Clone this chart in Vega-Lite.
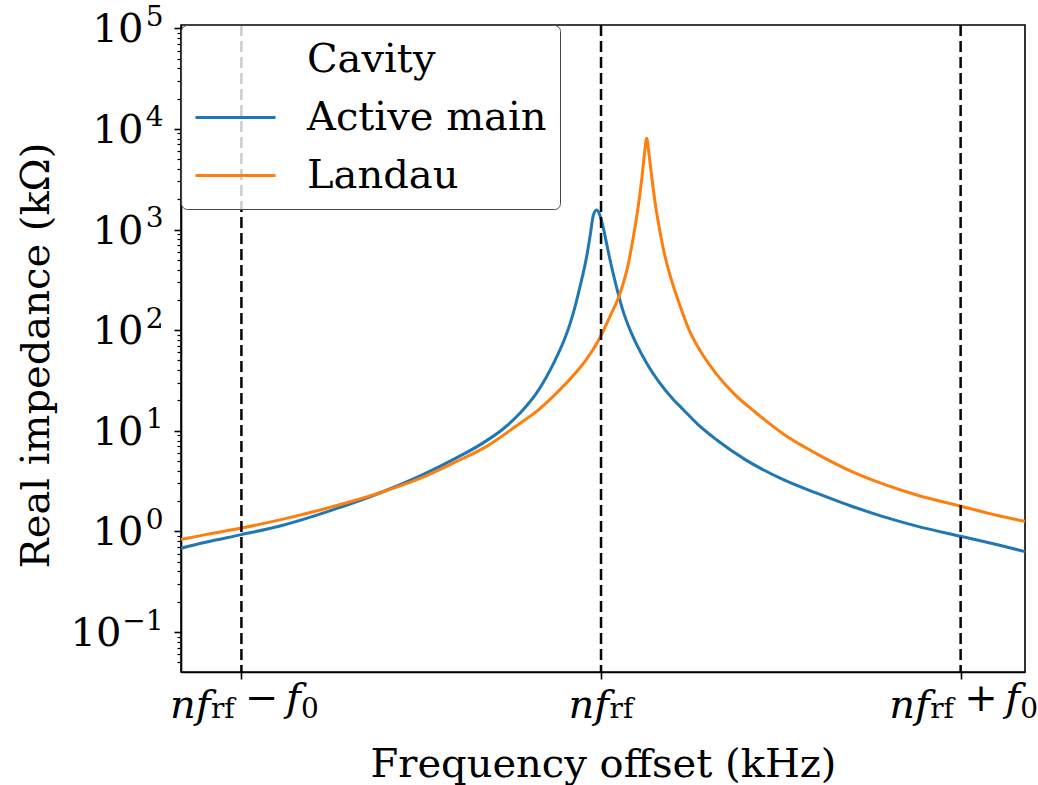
{
  "$schema": "https://vega.github.io/schema/vega-lite/v6.json",
  "width": 844,
  "height": 647,
  "autosize": {"type": "none"},
  "padding": {"left": 181, "top": 25, "right": 13, "bottom": 113},
  "background": "white",
  "config": {
    "view": {"stroke": "black", "strokeWidth": 1.6},
    "font": "DejaVu Serif",
    "axis": {
      "grid": false,
      "labelColor": "black",
      "titleColor": "black",
      "domainColor": "black",
      "tickColor": "black",
      "labelFont": "DejaVu Serif",
      "titleFont": "DejaVu Serif",
      "titleFontWeight": "normal",
      "labelOverlap": false,
      "labelFlush": false,
      "domainWidth": 1.6,
      "tickWidth": 1.6
    }
  },
  "datasets": {
    "curves": [
      {"u": -1.168, "z": 0.68, "cavity": "Active main"},
      {"u": -1.10, "z": 0.78, "cavity": "Active main"},
      {"u": -1.00, "z": 0.93, "cavity": "Active main"},
      {"u": -0.89, "z": 1.14, "cavity": "Active main"},
      {"u": -0.75, "z": 1.62, "cavity": "Active main"},
      {"u": -0.61, "z": 2.45, "cavity": "Active main"},
      {"u": -0.50, "z": 3.6, "cavity": "Active main"},
      {"u": -0.41, "z": 5.2, "cavity": "Active main"},
      {"u": -0.33, "z": 7.5, "cavity": "Active main"},
      {"u": -0.27, "z": 10.6, "cavity": "Active main"},
      {"u": -0.225, "z": 15, "cavity": "Active main"},
      {"u": -0.18, "z": 23.5, "cavity": "Active main"},
      {"u": -0.133, "z": 46, "cavity": "Active main"},
      {"u": -0.10, "z": 84, "cavity": "Active main"},
      {"u": -0.086, "z": 116, "cavity": "Active main"},
      {"u": -0.07, "z": 183, "cavity": "Active main"},
      {"u": -0.058, "z": 275, "cavity": "Active main"},
      {"u": -0.040, "z": 538, "cavity": "Active main"},
      {"u": -0.030, "z": 880, "cavity": "Active main"},
      {"u": -0.021, "z": 1400, "cavity": "Active main"},
      {"u": -0.012, "z": 1560, "cavity": "Active main"},
      {"u": -0.003, "z": 1380, "cavity": "Active main"},
      {"u": 0.006, "z": 1050, "cavity": "Active main"},
      {"u": 0.015, "z": 740, "cavity": "Active main"},
      {"u": 0.025, "z": 500, "cavity": "Active main"},
      {"u": 0.035, "z": 350, "cavity": "Active main"},
      {"u": 0.044, "z": 260, "cavity": "Active main"},
      {"u": 0.060, "z": 160, "cavity": "Active main"},
      {"u": 0.081, "z": 100, "cavity": "Active main"},
      {"u": 0.100, "z": 71, "cavity": "Active main"},
      {"u": 0.127, "z": 47, "cavity": "Active main"},
      {"u": 0.160, "z": 31, "cavity": "Active main"},
      {"u": 0.201, "z": 20.5, "cavity": "Active main"},
      {"u": 0.229, "z": 16.2, "cavity": "Active main"},
      {"u": 0.27, "z": 11.5, "cavity": "Active main"},
      {"u": 0.322, "z": 8.1, "cavity": "Active main"},
      {"u": 0.40, "z": 5.2, "cavity": "Active main"},
      {"u": 0.507, "z": 3.27, "cavity": "Active main"},
      {"u": 0.60, "z": 2.4, "cavity": "Active main"},
      {"u": 0.693, "z": 1.8, "cavity": "Active main"},
      {"u": 0.78, "z": 1.42, "cavity": "Active main"},
      {"u": 0.878, "z": 1.13, "cavity": "Active main"},
      {"u": 1.003, "z": 0.89, "cavity": "Active main"},
      {"u": 1.10, "z": 0.74, "cavity": "Active main"},
      {"u": 1.179, "z": 0.63, "cavity": "Active main"},
      {"u": -1.168, "z": 0.83, "cavity": "Landau"},
      {"u": -1.10, "z": 0.93, "cavity": "Landau"},
      {"u": -1.00, "z": 1.08, "cavity": "Landau"},
      {"u": -0.89, "z": 1.31, "cavity": "Landau"},
      {"u": -0.75, "z": 1.75, "cavity": "Landau"},
      {"u": -0.61, "z": 2.45, "cavity": "Landau"},
      {"u": -0.50, "z": 3.4, "cavity": "Landau"},
      {"u": -0.41, "z": 4.8, "cavity": "Landau"},
      {"u": -0.318, "z": 7.0, "cavity": "Landau"},
      {"u": -0.225, "z": 11.9, "cavity": "Landau"},
      {"u": -0.18, "z": 15.5, "cavity": "Landau"},
      {"u": -0.133, "z": 22, "cavity": "Landau"},
      {"u": -0.09, "z": 31.5, "cavity": "Landau"},
      {"u": -0.058, "z": 42.5, "cavity": "Landau"},
      {"u": -0.040, "z": 51.5, "cavity": "Landau"},
      {"u": -0.003, "z": 84, "cavity": "Landau"},
      {"u": 0.025, "z": 137, "cavity": "Landau"},
      {"u": 0.053, "z": 233, "cavity": "Landau"},
      {"u": 0.075, "z": 440, "cavity": "Landau"},
      {"u": 0.090, "z": 849, "cavity": "Landau"},
      {"u": 0.100, "z": 1400, "cavity": "Landau"},
      {"u": 0.113, "z": 3110, "cavity": "Landau"},
      {"u": 0.120, "z": 5300, "cavity": "Landau"},
      {"u": 0.127, "z": 8070, "cavity": "Landau"},
      {"u": 0.134, "z": 5400, "cavity": "Landau"},
      {"u": 0.141, "z": 3350, "cavity": "Landau"},
      {"u": 0.150, "z": 1900, "cavity": "Landau"},
      {"u": 0.164, "z": 950, "cavity": "Landau"},
      {"u": 0.173, "z": 650, "cavity": "Landau"},
      {"u": 0.190, "z": 370, "cavity": "Landau"},
      {"u": 0.201, "z": 275, "cavity": "Landau"},
      {"u": 0.211, "z": 215, "cavity": "Landau"},
      {"u": 0.248, "z": 95, "cavity": "Landau"},
      {"u": 0.275, "z": 63, "cavity": "Landau"},
      {"u": 0.32, "z": 37, "cavity": "Landau"},
      {"u": 0.368, "z": 23.7, "cavity": "Landau"},
      {"u": 0.43, "z": 15.2, "cavity": "Landau"},
      {"u": 0.507, "z": 9.3, "cavity": "Landau"},
      {"u": 0.60, "z": 5.9, "cavity": "Landau"},
      {"u": 0.693, "z": 4.0, "cavity": "Landau"},
      {"u": 0.78, "z": 3.0, "cavity": "Landau"},
      {"u": 0.878, "z": 2.3, "cavity": "Landau"},
      {"u": 1.003, "z": 1.77, "cavity": "Landau"},
      {"u": 1.10, "z": 1.45, "cavity": "Landau"},
      {"u": 1.179, "z": 1.26, "cavity": "Landau"}
    ],
    "vlines": [{"u": -1}, {"u": 0}, {"u": 1}]
  },
  "layer": [
    {
      "data": {"name": "curves"},
      "mark": {"type": "line", "interpolate": "monotone", "strokeWidth": 3},
      "encoding": {
        "x": {
          "field": "u", "type": "quantitative",
          "scale": {"domain": [-1.168, 1.179], "nice": false, "zero": false},
          "axis": {
            "orient": "bottom",
            "values": [-1, 0, 1],
            "labelExpr": "'nf'",
            "labelFontSize": 40,
            "labelFontStyle": "italic",
            "labelAlign": "left",
            "labelBaseline": "alphabetic",
            "labelPadding": 38,
            "labelOffset": {"condition": {"test": "datum.value == 0", "value": -33}, "value": -72},
            "tickSize": 7,
            "title": "Frequency offset (kHz)",
            "titleFontSize": 40,
            "titleBaseline": "alphabetic",
            "titleY": 104
          }
        },
        "y": {
          "field": "z", "type": "quantitative",
          "scale": {"type": "log", "domain": [0.0401, 107700], "nice": false},
          "axis": {
            "orient": "left",
            "values": [0.1, 1, 10, 100, 1000, 10000, 100000],
            "labelExpr": "'10'",
            "labelFontSize": 40,
            "labelAlign": "right",
            "labelBaseline": "alphabetic",
            "labelOffset": 13.5,
            "labelPadding": {"condition": {"test": "datum.value < 0.5", "value": 53}, "value": 31},
            "tickSize": 7,
            "title": "Real impedance (kΩ)",
            "titleFontSize": 40,
            "titleBaseline": "alphabetic",
            "titleAngle": -90,
            "titleX": -133,
            "titleY": 330
          }
        },
        "color": {
          "field": "cavity", "type": "nominal",
          "scale": {"domain": ["Cavity", "Active main", "Landau"], "range": ["rgba(0,0,0,0)", "#1f77b4", "#ff7f0e"]},
          "legend": {
            "title": null,
            "orient": "top-left",
            "offset": 0,
            "padding": 13,
            "fillColor": "rgba(255,255,255,0.8)",
            "strokeColor": "#444444",
            "cornerRadius": 6,
            "symbolType": "M-1,0H3",
            "symbolSize": 1600,
            "symbolStrokeWidth": 3,
            "labelFont": "DejaVu Serif",
            "labelFontSize": 40,
            "labelColor": "black",
            "labelOffset": 70,
            "labelLimit": 0,
            "rowPadding": 16
          }
        }
      }
    },
    {
      "data": {"name": "vlines"},
      "mark": {"type": "rule", "color": "black", "strokeWidth": 2.5, "strokeDash": [11, 5]},
      "encoding": {
        "x": {"field": "u", "type": "quantitative", "scale": {"domain": [-1.168, 1.179], "nice": false, "zero": false}, "axis": null}
      }
    },
    {
      "data": {"name": "curves"},
      "mark": {"type": "point", "opacity": 0},
      "encoding": {
        "x": {
          "field": "u", "type": "quantitative",
          "scale": {"domain": [-1.168, 1.179], "nice": false, "zero": false},
          "axis": {
            "orient": "bottom", "values": [-1, 0, 1], "labelExpr": "'rf'",
            "labelFontSize": 28, "labelAlign": "left", "labelBaseline": "alphabetic",
            "labelPadding": 45, "ticks": false, "domain": false, "title": null,
            "labelOffset": {"condition": {"test": "datum.value == 0", "value": 8}, "value": -31}
          }
        },
        "y": {
          "field": "z", "type": "quantitative",
          "scale": {"type": "log", "domain": [0.0401, 107700], "nice": false},
          "axis": {
            "orient": "left",
            "values": [0.1, 1, 10, 100, 1000, 10000, 100000],
            "labelExpr": "datum.value < 0.5 ? '−1' : '' + round(log(datum.value) / LN10)",
            "labelFontSize": 28, "labelAlign": "right", "labelBaseline": "alphabetic",
            "labelOffset": -3, "labelPadding": 18, "ticks": false, "domain": false, "title": null
          }
        }
      }
    },
    {
      "data": {"name": "curves"},
      "mark": {"type": "point", "opacity": 0},
      "encoding": {
        "x": {
          "field": "u", "type": "quantitative",
          "scale": {"domain": [-1.168, 1.179], "nice": false, "zero": false},
          "axis": {
            "orient": "bottom", "values": [-1, 0, 1],
            "labelExpr": "datum.value < 0 ? '−' : (datum.value > 0 ? '+' : '')",
            "labelFontSize": 40, "labelAlign": "left", "labelBaseline": "alphabetic",
            "labelPadding": 38, "labelOffset": 3, "ticks": false, "domain": false, "title": null
          }
        },
        "y": {
          "field": "z", "type": "quantitative",
          "scale": {"type": "log", "domain": [0.0401, 107700], "nice": false},
          "axis": {
            "orient": "left",
            "values": [0.05, 0.06, 0.07, 0.08, 0.09, 0.2, 0.3, 0.4, 0.5, 0.6, 0.7, 0.8, 0.9, 2, 3, 4, 5, 6, 7, 8, 9, 20, 30, 40, 50, 60, 70, 80, 90, 200, 300, 400, 500, 600, 700, 800, 900, 2000, 3000, 4000, 5000, 6000, 7000, 8000, 9000, 20000, 30000, 40000, 50000, 60000, 70000, 80000, 90000],
            "labels": false, "tickSize": 4, "tickWidth": 1.2, "domain": false, "title": null
          }
        }
      }
    },
    {
      "data": {"name": "curves"},
      "mark": {"type": "point", "opacity": 0},
      "encoding": {
        "x": {
          "field": "u", "type": "quantitative",
          "scale": {"domain": [-1.168, 1.179], "nice": false, "zero": false},
          "axis": {
            "orient": "bottom", "values": [-1, 0, 1],
            "labelExpr": "datum.value == 0 ? '' : 'f'",
            "labelFontSize": 40, "labelFontStyle": "italic", "labelAlign": "left", "labelBaseline": "alphabetic",
            "labelPadding": 38, "labelOffset": 44, "ticks": false, "domain": false, "title": null
          }
        },
        "y": {"field": "z", "type": "quantitative", "scale": {"type": "log", "domain": [0.0401, 107700], "nice": false}, "axis": null}
      }
    },
    {
      "data": {"name": "curves"},
      "mark": {"type": "point", "opacity": 0},
      "encoding": {
        "x": {
          "field": "u", "type": "quantitative",
          "scale": {"domain": [-1.168, 1.179], "nice": false, "zero": false},
          "axis": {
            "orient": "bottom", "values": [-1, 0, 1],
            "labelExpr": "datum.value == 0 ? '' : '0'",
            "labelFontSize": 28, "labelAlign": "left", "labelBaseline": "alphabetic",
            "labelPadding": 45, "labelOffset": 59, "ticks": false, "domain": false, "title": null
          }
        },
        "y": {"field": "z", "type": "quantitative", "scale": {"type": "log", "domain": [0.0401, 107700], "nice": false}, "axis": null}
      }
    }
  ],
  "resolve": {"axis": {"x": "independent", "y": "independent"}}
}
